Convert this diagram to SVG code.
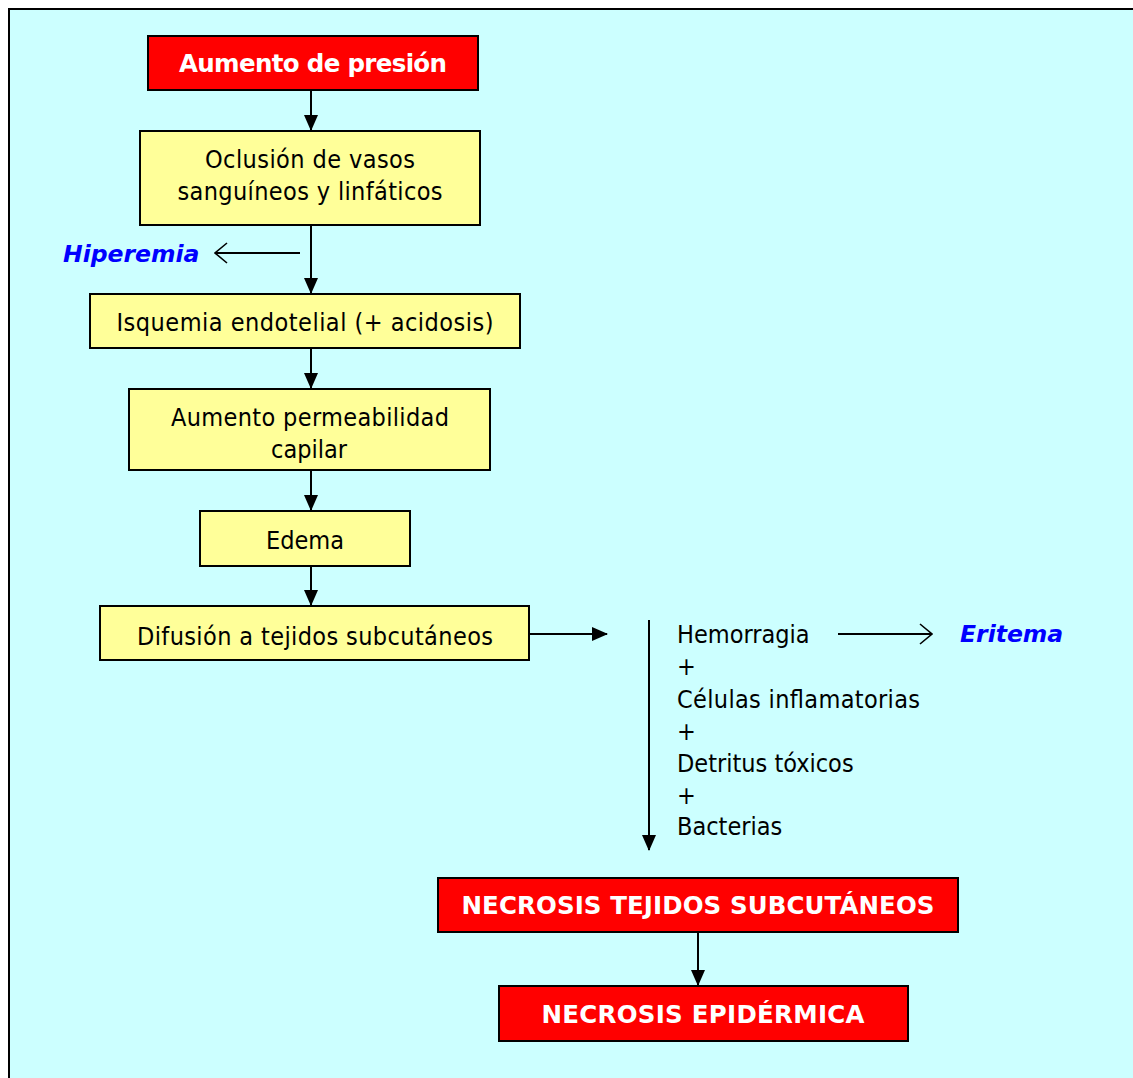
<svg xmlns="http://www.w3.org/2000/svg" width="1133" height="1078" viewBox="0 0 1133 1078">
<style>
.box{stroke:#000;stroke-width:2}
.red{fill:#FF0000}
.yel{fill:#FFFF99}
.t{font-family:"DejaVu Sans Condensed","DejaVu Sans",sans-serif;font-stretch:condensed;font-size:25px;fill:#000}
.tb{font-family:"DejaVu Sans",Verdana,sans-serif;font-size:24.5px;font-weight:bold;fill:#fff}
.tl{font-family:"DejaVu Sans",Verdana,sans-serif;font-size:23.5px;font-weight:bold;font-style:italic;fill:#0000FF}
.ln{stroke:#000;stroke-width:2;fill:none}
</style>
<defs>
<marker id="fab" markerWidth="16" markerHeight="16" refX="15" refY="8" orient="auto" markerUnits="userSpaceOnUse" viewBox="0 0 16 16">
<path d="M0,1 L16,8 L0,15 Z" fill="#000"/>
</marker>
<marker id="oa" markerWidth="14" markerHeight="22" refX="13" refY="11" orient="auto" markerUnits="userSpaceOnUse" viewBox="0 0 14 22">
<path d="M1,1 L13,11 L1,21" fill="none" stroke="#000" stroke-width="1.6"/>
</marker>
</defs>
<rect x="0" y="0" width="1133" height="1078" fill="#fff"/>
<rect x="9" y="9" width="1140" height="1090" fill="#CCFFFF" stroke="#000" stroke-width="2"/>

<g id="connectors">
<line class="ln" x1="311" y1="90" x2="311" y2="130" marker-end="url(#fab)"/>
<line class="ln" x1="311" y1="225" x2="311" y2="293" marker-end="url(#fab)"/>
<line class="ln" x1="300" y1="253" x2="215" y2="253" stroke-width="1.6" marker-end="url(#oa)"/>
<line class="ln" x1="311" y1="348" x2="311" y2="388" marker-end="url(#fab)"/>
<line class="ln" x1="311" y1="470" x2="311" y2="510" marker-end="url(#fab)"/>
<line class="ln" x1="311" y1="566" x2="311" y2="605" marker-end="url(#fab)"/>
<line class="ln" x1="529" y1="634" x2="607" y2="634" marker-end="url(#fab)"/>
<line class="ln" x1="649" y1="620" x2="649" y2="850" marker-end="url(#fab)"/>
<line class="ln" x1="838" y1="634" x2="932" y2="634" stroke-width="1.6" marker-end="url(#oa)"/>
<line class="ln" x1="698" y1="932" x2="698" y2="985" marker-end="url(#fab)"/>
</g>

<g id="n1"><rect class="box red" x="148" y="36" width="330" height="54"/>
<text class="tb" x="313" y="72" text-anchor="middle" textLength="268">Aumento de presión</text></g>

<g id="n2"><rect class="box yel" x="140" y="131" width="340" height="94"/>
<text class="t" x="310" y="168" text-anchor="middle" textLength="210">Oclusión de vasos</text>
<text class="t" x="310" y="200" text-anchor="middle" textLength="265">sanguíneos y linfáticos</text></g>

<g id="n_hiperemia"><text class="tl" x="63" y="262">Hiperemia</text></g>

<g id="n3"><rect class="box yel" x="90" y="294" width="430" height="54"/>
<text class="t" x="305" y="331" text-anchor="middle" textLength="377">Isquemia endotelial (+ acidosis)</text></g>

<g id="n4"><rect class="box yel" x="129" y="389" width="361" height="81"/>
<text class="t" x="310" y="426" text-anchor="middle" textLength="278">Aumento permeabilidad</text>
<text class="t" x="309" y="458" text-anchor="middle">capilar</text></g>

<g id="n5"><rect class="box yel" x="200" y="511" width="210" height="55"/>
<text class="t" x="305" y="549" text-anchor="middle">Edema</text></g>

<g id="n6"><rect class="box yel" x="100" y="606" width="429" height="54"/>
<text class="t" x="315" y="645" text-anchor="middle" textLength="356">Difusión a tejidos subcutáneos</text></g>

<g id="n_list">
<text class="t" x="677" y="643">Hemorragia</text>
<text class="t" x="677" y="675">+</text>
<text class="t" x="677" y="708" textLength="243">Células inflamatorias</text>
<text class="t" x="677" y="740">+</text>
<text class="t" x="677" y="772">Detritus tóxicos</text>
<text class="t" x="677" y="804">+</text>
<text class="t" x="677" y="835">Bacterias</text>
</g>

<g id="n_eritema"><text class="tl" x="960" y="642">Eritema</text></g>

<g id="n7"><rect class="box red" x="438" y="878" width="520" height="54"/>
<text class="tb" x="698" y="914" text-anchor="middle" textLength="473">NECROSIS TEJIDOS SUBCUTÁNEOS</text></g>

<g id="n8"><rect class="box red" x="499" y="986" width="409" height="55"/>
<text class="tb" x="703" y="1023" text-anchor="middle" textLength="323">NECROSIS EPIDÉRMICA</text></g>
</svg>
